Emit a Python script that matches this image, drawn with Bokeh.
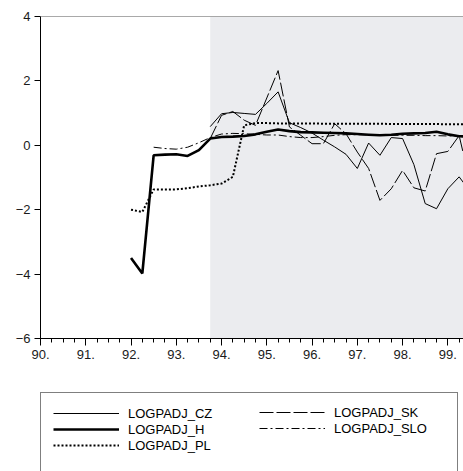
import numpy as np
from bokeh.plotting import figure
from bokeh.layouts import column
from bokeh.models import FixedTicker, BoxAnnotation, Span, Legend, LegendItem, Range1d
from bokeh.embed import file_html
from bokeh.resources import INLINE

nan = float("nan")

# Quarterly periods 1992Q1 .. 1999Q3
periods = ["1992Q1", "1992Q2", "1992Q3", "1992Q4",
           "1993Q1", "1993Q2", "1993Q3", "1993Q4",
           "1994Q1", "1994Q2", "1994Q3", "1994Q4",
           "1995Q1", "1995Q2", "1995Q3", "1995Q4",
           "1996Q1", "1996Q2", "1996Q3", "1996Q4",
           "1997Q1", "1997Q2", "1997Q3", "1997Q4",
           "1998Q1", "1998Q2", "1998Q3", "1998Q4",
           "1999Q1", "1999Q2", "1999Q3"]

logpadj_cz = [nan, nan, nan, nan, nan, nan, nan, 0.58,
              0.98, 1.02, 0.99, 0.96, 1.30, 1.66, 0.70, 0.55,
              0.38, 0.16, -0.05, -0.28, -0.72, 0.07, -0.31, 0.24,
              0.21, -0.60, -1.81, -1.97, -1.35, -0.98, -1.45]

logpadj_h = [-3.50, -3.98, -0.31, -0.29, -0.28, -0.33, -0.15, 0.21,
             0.26, 0.27, 0.29, 0.34, 0.42, 0.49, 0.44, 0.41,
             0.40, 0.39, 0.38, 0.37, 0.35, 0.33, 0.31, 0.33,
             0.36, 0.37, 0.38, 0.42, 0.34, 0.28, 0.27]

logpadj_pl = [-2.00, -2.07, -1.37, -1.37, -1.37, -1.33, -1.28, -1.24,
              -1.19, -0.98, 0.62, 0.69, 0.69, 0.68, 0.68, 0.68,
              0.68, 0.67, 0.67, 0.67, 0.67, 0.67, 0.67, 0.66,
              0.66, 0.66, 0.66, 0.66, 0.65, 0.65, 0.65]

logpadj_sk = [nan, nan, nan, nan, nan, nan, nan, 0.21,
              0.93, 1.05, 0.78, 0.62, 1.47, 2.32, 0.57, 0.31,
              0.05, 0.05, 0.67, 0.36, -0.21, -0.72, -1.71, -1.35,
              -0.78, -1.32, -1.42, -0.26, -0.19, 0.30, -1.20]

logpadj_slo = [nan, nan, -0.06, -0.10, -0.12, -0.06, 0.08, 0.24,
               0.35, 0.37, 0.36, 0.34, 0.32, 0.32, 0.27, 0.24,
               0.24, 0.27, 0.31, 0.33, 0.33, 0.32, 0.31, 0.31,
               0.31, 0.31, 0.30, 0.30, 0.29, 0.30, 0.29]

series_names = ["LOGPADJ_CZ", "LOGPADJ_H", "LOGPADJ_PL", "LOGPADJ_SK", "LOGPADJ_SLO"]

year_ticks = [1990, 1991, 1992, 1993, 1994, 1995, 1996, 1997, 1998, 1999]
year_labels = ["90.", "91.", "92.", "93.", "94.", "95.", "96.", "97.", "98.", "99."]
y_ticks = [-6, -4, -2, 0, 2, 4]
y_labels = ["\u22126", "\u22124", "\u22122", "0", "2", "4"]
shade_start_period = "1993Q4"


def period_to_x(s):
    return int(s[:4]) + (int(s[5]) - 1) / 4.0


x = np.array([period_to_x(s) for s in periods])
quarter_ticks = [yr + q / 4.0 for yr in range(1990, 2000) for q in range(4)]

FONT = "Liberation Sans"

styles = {
    "LOGPADJ_CZ": dict(line_color="black", line_width=1),
    "LOGPADJ_H": dict(line_color="black", line_width=2.6),
    "LOGPADJ_PL": dict(line_color="black", line_width=2, line_dash="2 2"),
    "LOGPADJ_SK": dict(line_color="black", line_width=1, line_dash="14 3"),
    "LOGPADJ_SLO": dict(line_color="black", line_width=1, line_dash="8 3 2 3"),
}

# ---------------- main chart ----------------
p = figure(width=463, height=380, output_backend="svg", toolbar_location=None,
           x_range=Range1d(1990, 1999.346), y_range=Range1d(-6, 4),
           min_border_left=40, min_border_right=0, min_border_top=16,
           min_border_bottom=42)
p.outline_line_color = None
p.background_fill_color = "white"
p.border_fill_color = "white"
p.xgrid.visible = False
p.ygrid.visible = False

shade = BoxAnnotation(left=period_to_x(shade_start_period), fill_color="#ebecef",
                      fill_alpha=1.0, line_color=None, level="underlay")
p.add_layout(shade)
p.add_layout(Span(location=4, dimension="width", line_color="#555555", line_width=1))

p.xaxis.ticker = FixedTicker(ticks=year_ticks, minor_ticks=quarter_ticks)
p.xaxis.major_label_overrides = {t: l for t, l in zip(year_ticks, year_labels)}
p.yaxis.ticker = FixedTicker(ticks=y_ticks, minor_ticks=[])
p.yaxis.major_label_overrides = {t: l for t, l in zip(y_ticks, y_labels)}
for ax in (p.xaxis, p.yaxis):
    ax.axis_line_color = "black"
    ax.axis_line_width = 1
    ax.major_tick_line_color = "black"
    ax.minor_tick_line_color = "black"
    ax.major_tick_in = 0
    ax.minor_tick_in = 0
    ax.major_label_text_font = FONT
    ax.major_label_text_font_size = "13px"
    ax.major_label_text_color = "#1a1a1a"
p.xaxis.major_tick_out = 7
p.xaxis.minor_tick_out = 4
p.xaxis.major_label_standoff = 4
p.yaxis.major_tick_out = 6
p.yaxis.minor_tick_out = 0
p.yaxis.major_label_standoff = 4

data = {
    "LOGPADJ_CZ": logpadj_cz,
    "LOGPADJ_H": logpadj_h,
    "LOGPADJ_PL": logpadj_pl,
    "LOGPADJ_SK": logpadj_sk,
    "LOGPADJ_SLO": logpadj_slo,
}
for name in ["LOGPADJ_CZ", "LOGPADJ_SK", "LOGPADJ_SLO", "LOGPADJ_PL", "LOGPADJ_H"]:
    p.line(x, np.array(data[name]), **styles[name])

# ---------------- legend panel ----------------
pl = figure(width=463, height=91, output_backend="svg", toolbar_location=None,
            x_range=Range1d(0, 1), y_range=Range1d(0, 1),
            x_axis_location=None, y_axis_location=None,
            min_border_left=40, min_border_right=0, min_border_top=0,
            min_border_bottom=0)
pl.outline_line_color = None
pl.xgrid.visible = False
pl.ygrid.visible = False
pl.border_fill_color = "white"
pl.background_fill_color = "white"

# legend proxies (kept outside the visible range; only their style is used)
leg_r = {name: pl.line([-5, -4], [-5, -5], **styles[name]) for name in series_names}
blank = pl.line([-5, -4], [-5, -5], line_alpha=0)


def style_legend(lg):
    lg.label_text_font = FONT
    lg.label_text_font_size = "13px"
    lg.label_text_color = "black"
    lg.glyph_width = 66
    lg.glyph_height = 16
    lg.label_height = 16
    lg.label_standoff = 9
    lg.padding = 12
    lg.spacing = 0
    lg.margin = 0


leg_a = Legend(items=[
    LegendItem(label="LOGPADJ_CZ", renderers=[leg_r["LOGPADJ_CZ"]]),
    LegendItem(label="LOGPADJ_H", renderers=[leg_r["LOGPADJ_H"]]),
    LegendItem(label="LOGPADJ_PL", renderers=[leg_r["LOGPADJ_PL"]]),
    LegendItem(label=" ", renderers=[blank]),
], location=(0, -11))
style_legend(leg_a)
leg_a.label_width = 317
leg_a.border_line_color = "black"
leg_a.border_line_width = 1
leg_a.background_fill_color = "white"
leg_a.background_fill_alpha = 1.0
pl.add_layout(leg_a)

# second legend column (drawn without its own frame, so without padding)
leg_b = Legend(items=[
    LegendItem(label="LOGPADJ_SK", renderers=[leg_r["LOGPADJ_SK"]]),
    LegendItem(label="LOGPADJ_SLO", renderers=[leg_r["LOGPADJ_SLO"]]),
], location=(219, 35))
style_legend(leg_b)
leg_b.border_line_color = None
leg_b.background_fill_alpha = 0
pl.add_layout(leg_b)

layout = column(p, pl, spacing=0)
open("out.html", "w").write(file_html(layout, INLINE))
